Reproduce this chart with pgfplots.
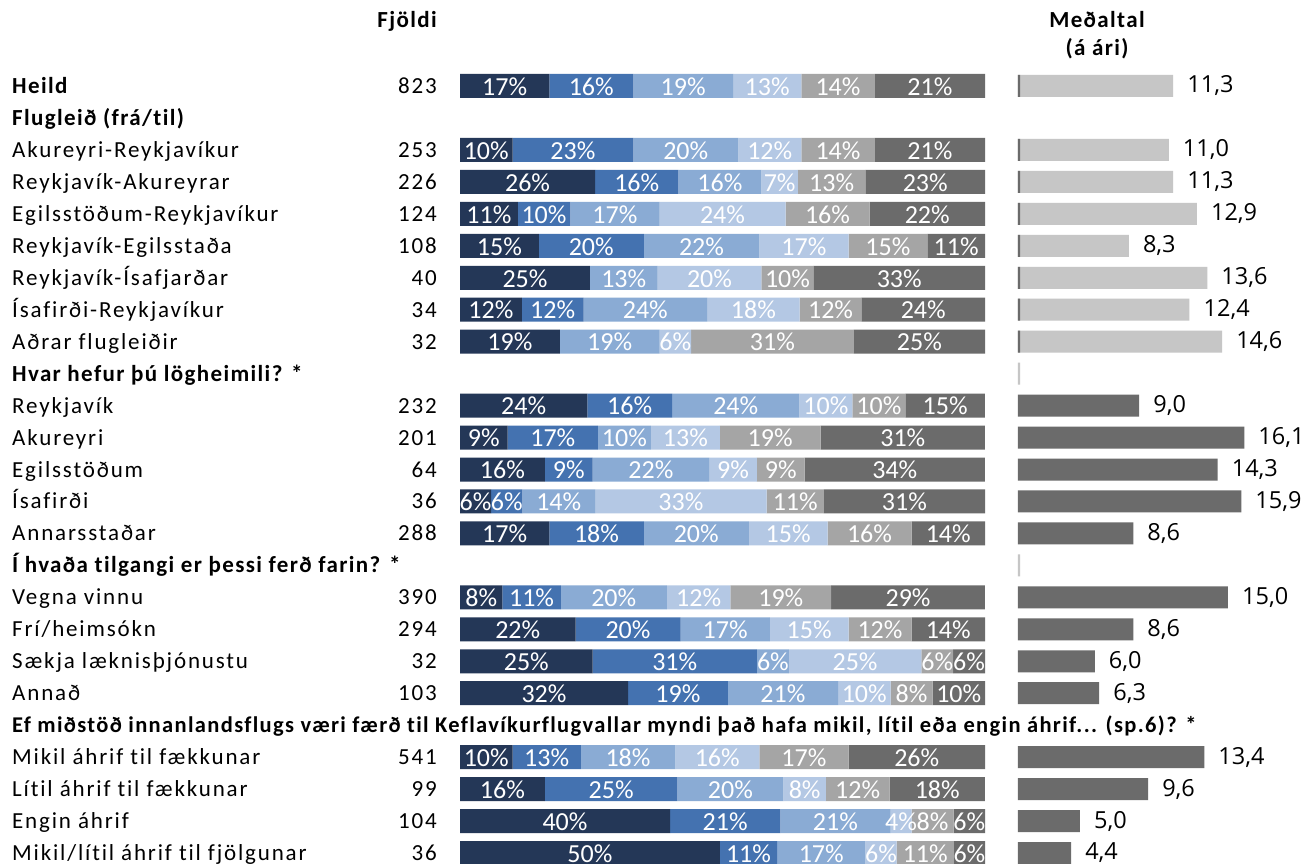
\documentclass[border=0pt]{standalone}
\usepackage{fontspec}
\setmainfont{Carlito}[Ligatures={NoCommon}]
\newfontfamily\valfamily{Open Sans}
\newfontfamily\labfamily{Carlito}[LetterSpace=8, Ligatures={NoCommon}]
\newfontfamily\hdfamily{Carlito}[LetterSpace=6, Ligatures={NoCommon}]
\newfontfamily\pctfamily{Carlito}[Ligatures={NoCommon}]
\usepackage{pgfplots}
\pgfplotsset{compat=1.18}
\usepackage{pgfplotstable}
\definecolor{c1}{HTML}{243757}
\definecolor{c2}{HTML}{4472B0}
\definecolor{c3}{HTML}{8AABD4}
\definecolor{c4}{HTML}{B4C8E4}
\definecolor{c5}{HTML}{A5A5A5}
\definecolor{c6}{HTML}{6B6B6B}
\definecolor{lgray}{HTML}{C6C6C6}
\definecolor{dgray}{HTML}{6B6B6B}
\newcommand{\pctfont}{\pctfamily\fontsize{26}{26}\selectfont}
\newcommand{\valfont}{\valfamily\fontsize{23.5}{24}\selectfont}
\newcommand{\txtfont}{\labfamily\fontsize{23}{26}\selectfont}
\newcommand{\bfont}{\hdfamily\fontsize{23}{26}\selectfont\bfseries}

\pgfplotstableread{
row a b c d e f
0 17 16 19 13 14 21
2 10 23 20 12 14 21
3 26 16 16 7 13 23
4 11 10 17 24 16 22
5 15 20 22 17 15 11
6 25 0 13 20 10 33
7 12 12 24 18 12 24
8 19 0 19 6 31 25
10 24 16 24 10 10 15
11 9 17 10 13 19 31
12 16 9 22 9 9 34
13 6 6 14 33 11 31
14 17 18 20 15 16 14
16 8 11 20 12 19 29
17 22 20 17 15 12 14
18 25 31 6 25 6 6
19 32 19 21 10 8 10
21 10 13 18 16 17 26
22 16 25 20 8 12 18
23 40 21 21 4 8 6
24 50 11 17 6 11 6
}\stk
% each bar is a full 100 % (the printed shares are rounded)
\pgfplotstablecreatecol[create col/expr={\thisrow{a}+\thisrow{b}+\thisrow{c}+\thisrow{d}+\thisrow{e}+\thisrow{f}}]{s}{\stk}
\pgfplotstablecreatecol[create col/expr={100*\thisrow{a}/\thisrow{s}}]{na}{\stk}
\pgfplotstablecreatecol[create col/expr={100*\thisrow{b}/\thisrow{s}}]{nb}{\stk}
\pgfplotstablecreatecol[create col/expr={100*\thisrow{c}/\thisrow{s}}]{nc}{\stk}
\pgfplotstablecreatecol[create col/expr={100*\thisrow{d}/\thisrow{s}}]{nd}{\stk}
\pgfplotstablecreatecol[create col/expr={100*\thisrow{e}/\thisrow{s}}]{ne}{\stk}
\pgfplotstablecreatecol[create col/expr={100*\thisrow{f}/\thisrow{s}}]{nf}{\stk}
\pgfplotstablecreatecol[create col/expr={\thisrow{na}/2}]{ma}{\stk}
\pgfplotstablecreatecol[create col/expr={\thisrow{na}+\thisrow{nb}/2}]{mb}{\stk}
\pgfplotstablecreatecol[create col/expr={\thisrow{na}+\thisrow{nb}+\thisrow{nc}/2}]{mc}{\stk}
\pgfplotstablecreatecol[create col/expr={\thisrow{na}+\thisrow{nb}+\thisrow{nc}+\thisrow{nd}/2}]{md}{\stk}
\pgfplotstablecreatecol[create col/expr={\thisrow{na}+\thisrow{nb}+\thisrow{nc}+\thisrow{nd}+\thisrow{ne}/2}]{me}{\stk}
\pgfplotstablecreatecol[create col/expr={\thisrow{na}+\thisrow{nb}+\thisrow{nc}+\thisrow{nd}+\thisrow{ne}+\thisrow{nf}/2}]{mf}{\stk}

\pgfplotstableread{
row v
0 11.3
2 11.0
3 11.3
4 12.9
5 8.3
6 13.6
7 12.4
8 14.6
}\lightd

\pgfplotstableread{
row v
10 9.0
11 16.1
12 14.3
13 15.9
14 8.6
16 15.0
17 8.6
18 6.0
19 6.3
21 13.4
22 9.6
23 5.0
24 4.4
}\darkd

\pgfplotstableread{
row v
0 0.95
2 0.95
3 0.95
4 0.95
5 0.95
6 0.95
7 0.95
8 0.95
}\markd

\pgfplotstableread{
row v
9 0.95
15 0.95
}\markl

\newcommand{\lab}[3]{%
  \node[anchor=base west, inner sep=0pt] at (12, {86+31.96*#1+7.5}) {#2};%
  \node[anchor=base east, inner sep=0pt, font=\txtfont] at (437, {86+31.96*#1+7.5}) {#3};}

\pgfplotsset{pctlab/.style={only marks, mark=none, point meta=explicit symbolic,
  nodes near coords={\ifnum\pgfplotspointmeta>0 \pgfplotspointmeta\%\fi},
  every node near coord/.append style={anchor=center, yshift=-0.5pt, text=white, font=\pctfont, inner sep=0pt}}}

\begin{document}
\begin{tikzpicture}
\clip (0pt,0pt) rectangle (1311pt,-864pt);
\fill[white] (0pt,0pt) rectangle (1311pt,-864pt);

\begin{axis}[at={(460pt,-70pt)}, anchor=north west, scale only axis,
  width=525pt, height=799pt, xmin=0, xmax=100, ymin=-0.5, ymax=24.5,
  y dir=reverse, xbar stacked, bar width=24pt, axis lines=none, ticks=none]
\addplot[fill=c1, draw=none] table[x=na, y=row]{\stk};
\addplot[fill=c2, draw=none] table[x=nb, y=row]{\stk};
\addplot[fill=c3, draw=none] table[x=nc, y=row]{\stk};
\addplot[fill=c4, draw=none] table[x=nd, y=row]{\stk};
\addplot[fill=c5, draw=none] table[x=ne, y=row]{\stk};
\addplot[fill=c6, draw=none] table[x=nf, y=row]{\stk};
\end{axis}

\begin{axis}[at={(460pt,-70pt)}, anchor=north west, scale only axis,
  width=525pt, height=799pt, xmin=0, xmax=100, ymin=-0.5, ymax=24.5,
  y dir=reverse, axis lines=none, ticks=none, clip=false]
\addplot[pctlab] table[x=ma, y=row, meta=a]{\stk};
\addplot[pctlab] table[x=mb, y=row, meta=b]{\stk};
\addplot[pctlab] table[x=mc, y=row, meta=c]{\stk};
\addplot[pctlab] table[x=md, y=row, meta=d]{\stk};
\addplot[pctlab] table[x=me, y=row, meta=e]{\stk};
\addplot[pctlab] table[x=mf, y=row, meta=f]{\stk};
\end{axis}

\begin{axis}[at={(1017.8pt,-70pt)}, anchor=north west, scale only axis,
  width=313.76pt, height=799pt, xmin=0.8, xmax=22, ymin=-0.5, ymax=24.5,
  y dir=reverse, xbar, bar width=22pt, bar shift=0pt, axis lines=none, ticks=none]
\addplot[fill=lgray, draw=none, point meta=x,
  nodes near coords={\pgfmathprintnumber[fixed,fixed zerofill,precision=1,use comma,assume math mode=true]{\pgfplotspointmeta}},
  every node near coord/.append style={anchor=west, xshift=14pt, inner sep=0pt, text=black, font=\valfont}]
  table[x=v, y=row]{\lightd};
\addplot[fill=dgray, draw=none, point meta=x,
  nodes near coords={\pgfmathprintnumber[fixed,fixed zerofill,precision=1,use comma,assume math mode=true]{\pgfplotspointmeta}},
  every node near coord/.append style={anchor=west, xshift=14pt, inner sep=0pt, text=black, font=\valfont}]
  table[x=v, y=row]{\darkd};
\addplot[fill=dgray, draw=none] table[x=v, y=row]{\markd};
\addplot[fill=lgray, draw=none] table[x=v, y=row]{\markl};
\end{axis}

\begin{scope}[x=1pt, y=-1pt]
\node[anchor=base east, inner sep=0pt, font=\bfont] at (437, 28) {Fjöldi};
\node[anchor=base, inner sep=0pt, font=\bfont] at (1097, 28) {Meðaltal};
\node[anchor=base, inner sep=0pt, font=\bfont] at (1097, 56) {(á ári)};
\begin{scope}[font=\txtfont]
\lab{0}{\bfont Heild}{823}
\lab{1}{\bfont Flugleið (frá/til)}{}
\lab{2}{Akureyri-Reykjavíkur}{253}
\lab{3}{Reykjavík-Akureyrar}{226}
\lab{4}{Egilsstöðum-Reykjavíkur}{124}
\lab{5}{Reykjavík-Egilsstaða}{108}
\lab{6}{Reykjavík-Ísafjarðar}{40}
\lab{7}{Ísafirði-Reykjavíkur}{34}
\lab{8}{Aðrar flugleiðir}{32}
\lab{9}{\bfont Hvar hefur þú lögheimili? *}{}
\lab{10}{Reykjavík}{232}
\lab{11}{Akureyri}{201}
\lab{12}{Egilsstöðum}{64}
\lab{13}{Ísafirði}{36}
\lab{14}{Annarsstaðar}{288}
\lab{15}{\bfont Í hvaða tilgangi er þessi ferð farin? *}{}
\lab{16}{Vegna vinnu}{390}
\lab{17}{Frí/heimsókn}{294}
\lab{18}{Sækja læknisþjónustu}{32}
\lab{19}{Annað}{103}
\lab{20}{\hdfamily\fontsize{22.5}{26}\selectfont\bfseries Ef miðstöð innanlandsflugs væri færð til Keflavíkurflugvallar myndi það hafa mikil, lítil eða engin áhrif... (sp.6)? *}{}
\lab{21}{Mikil áhrif til fækkunar}{541}
\lab{22}{Lítil áhrif til fækkunar}{99}
\lab{23}{Engin áhrif}{104}
\lab{24}{Mikil/lítil áhrif til fjölgunar}{36}
\end{scope}
\end{scope}
\end{tikzpicture}
\end{document}
